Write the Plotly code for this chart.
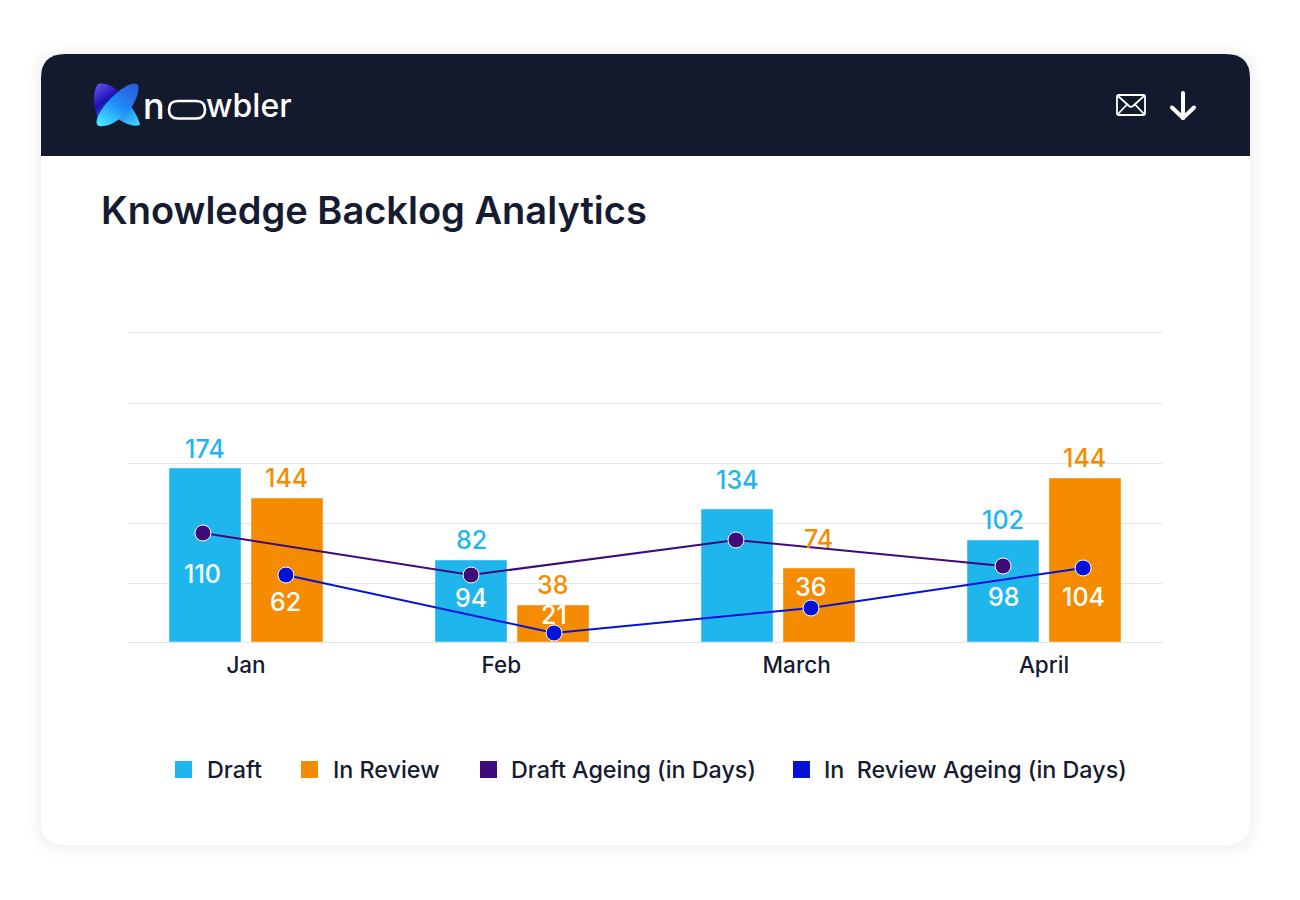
import base64

import plotly.graph_objects as go

W, H = 1300, 900
FONT = "Inter"
INK = "#151B30"
HEADER = "#141A2E"
GRID = "#E3E4E6"

months = ["Jan", "Feb", "March", "April"]
group_x = [0, 1, 2, 3]
month_tick_x = [0, 0.96, 2.07, 3]

# bar heights as drawn (the April review bar is taller than its 144 label)
draft_heights = [174, 82, 133, 102]
review_heights = [144, 37, 74, 164]
draft_labels = ["174", "82", "134", "102"]
review_labels = ["144", "38", "74", "144"]

draft_age_x = [-0.162, 0.846, 1.842, 2.846]
draft_age_y = [109, 67, 102, 76]
review_age_x = [0.150, 1.158, 2.124, 3.147]
review_age_y = [67, 9, 34, 74]
draft_age_labels = ["110", "94", "", "98"]
review_age_labels = ["62", "21", "36", "104"]

grid_vals = [0, 59, 119, 179, 239, 310]

# pixel nudges for the value labels
draft_label_shift = [19, 20, 29, 20]
review_label_shift = [20, 20, 29, 20]
draft_age_shift = [-41, -23, 0, -31]
review_age_shift = [-27, 18, 21, -29]

BLUE = "#1FB6EE"
ORANGE = "#F58B00"
PURPLE = "#3F0A7A"
ROYAL = "#0412D8"

legend_items = [
    ("Draft", BLUE, 175, 205),
    ("In Review", ORANGE, 301, 331),
    ("Draft Ageing (in Days)", PURPLE, 480, 509),
    ("In  Review Ageing (in Days)", ROYAL, 793, 822),
]

shadow_spreads = [14, 12, 10, 8, 7, 6, 5, 4, 3, 2, 1]


def px(x):
    return x / W


def py(y):
    return 1 - y / H


def rounded(x0, y0, x1, y1, r, bottom=True):
    """Rounded box path in paper coords; bottom=False keeps a square bottom edge."""
    pts = [f"M{px(x0 + r)},{py(y0)}", f"L{px(x1 - r)},{py(y0)}",
           f"Q{px(x1)},{py(y0)} {px(x1)},{py(y0 + r)}"]
    if bottom:
        pts += [f"L{px(x1)},{py(y1 - r)}", f"Q{px(x1)},{py(y1)} {px(x1 - r)},{py(y1)}",
                f"L{px(x0 + r)},{py(y1)}", f"Q{px(x0)},{py(y1)} {px(x0)},{py(y1 - r)}"]
    else:
        pts += [f"L{px(x1)},{py(y1)}", f"L{px(x0)},{py(y1)}"]
    pts += [f"L{px(x0)},{py(y0 + r)}", f"Q{px(x0)},{py(y0)} {px(x0 + r)},{py(y0)}", "Z"]
    return " ".join(pts)


def svg_uri(svg):
    return "data:image/svg+xml;base64," + base64.b64encode(svg.encode()).decode()


LOGO = """<svg xmlns="http://www.w3.org/2000/svg" viewBox="0 0 47 44" width="47" height="44">
<defs>
<linearGradient id="a" x1="0.1" y1="0" x2="0.9" y2="1">
<stop offset="0" stop-color="#6A4CF0"/><stop offset="0.32" stop-color="#1A12B4"/>
<stop offset="0.62" stop-color="#1E7CF0"/><stop offset="1" stop-color="#3CD4FF"/></linearGradient>
<linearGradient id="b" x1="0.9" y1="0" x2="0.15" y2="1">
<stop offset="0" stop-color="#2F57DC"/><stop offset="0.5" stop-color="#1E8CF8"/>
<stop offset="1" stop-color="#45E4FF"/></linearGradient>
</defs>
<path fill="url(#a)" d="M5 1 C12 -1 22 4 28 11 C36 19 46 34 47 42 C40 45 27 39 19 31 C14 34 9 38 7 38 C1 30 -2 10 5 1 Z"/>
<path fill="url(#b)" d="M44 1 C48 4 44 16 38 25 C30 35 16 45 6 43 C1 41 4 32 12 22 C20 12 36 -2 44 1 Z"/>
</svg>"""

MAIL = """<svg xmlns="http://www.w3.org/2000/svg" viewBox="0 0 30 22" width="30" height="22">
<g fill="none" stroke="#fff" stroke-width="1.8" stroke-linejoin="round" stroke-linecap="round">
<rect x="1" y="1" width="28" height="20" rx="1.5"/>
<path d="M2 2 L13 12 Q15 13.6 17 12 L28 2"/><path d="M2 20 L11 10.5"/><path d="M28 20 L19 10.5"/>
</g></svg>"""

ARROW = """<svg xmlns="http://www.w3.org/2000/svg" viewBox="0 0 28 30" width="28" height="30">
<g fill="none" stroke="#fff" stroke-width="4" stroke-linejoin="round" stroke-linecap="round">
<path d="M14 2 V27"/><path d="M3 16.5 L14 27 L25 16.5"/></g></svg>"""


def image(svg, x, y, w, h):
    return dict(source=svg_uri(svg), xref="paper", yref="paper", x=px(x), y=py(y),
                sizex=w / W, sizey=h / H, xanchor="left", yanchor="top",
                sizing="stretch", layer="above")


fig = go.Figure()

fig.add_trace(go.Bar(x=group_x, y=draft_heights, name="Draft", marker_color=BLUE, hoverinfo="skip"))
fig.add_trace(go.Bar(x=group_x, y=review_heights, name="In Review", marker_color=ORANGE, hoverinfo="skip"))
fig.add_trace(go.Scatter(
    x=draft_age_x, y=draft_age_y, name="Draft Ageing (in Days)", mode="lines+markers",
    line=dict(color=PURPLE, width=2),
    marker=dict(color=PURPLE, size=16, line=dict(color="white", width=1)),
))
fig.add_trace(go.Scatter(
    x=review_age_x, y=review_age_y, name="In  Review Ageing (in Days)", mode="lines+markers",
    line=dict(color=ROYAL, width=2),
    marker=dict(color=ROYAL, size=16, line=dict(color="white", width=1)),
))

shapes = []
# soft card shadow
for spread in shadow_spreads:
    shapes.append(dict(type="path", xref="paper", yref="paper", layer="below",
                       path=rounded(41 - spread, 54 - spread + 1, 1250 + spread, 845 + spread + 1, 22 + spread),
                       fillcolor="rgba(50,50,50,0.005)", line_width=0))
shapes.append(dict(type="path", xref="paper", yref="paper", layer="below",
                   path=rounded(41, 54, 1250, 845, 24), fillcolor="white", line_width=0))
shapes.append(dict(type="path", xref="paper", yref="paper", layer="below",
                   path=rounded(41, 54, 1250, 156, 24, bottom=False), fillcolor=HEADER, line_width=0))
# the stretched "o" of the wordmark
shapes.append(dict(type="path", xref="paper", yref="paper", layer="above",
                   path=rounded(169, 101, 205, 118.5, 8.7), fillcolor="rgba(0,0,0,0)",
                   line=dict(color="white", width=2.6)))

annotations = []


def label(text, x, y, color, size=25, shift=0, weight=500):
    annotations.append(dict(text=text, x=x, y=y, xref="x", yref="y", yshift=shift, showarrow=False,
                            xanchor="center", yanchor="middle",
                            font=dict(family=FONT, size=size, color=color, weight=weight)))


for i, gx in enumerate(group_x):
    label(draft_labels[i], gx - 0.154, draft_heights[i], BLUE, shift=draft_label_shift[i])
    label(review_labels[i], gx + 0.154, review_heights[i], ORANGE, shift=review_label_shift[i])
    if draft_age_labels[i]:
        label(draft_age_labels[i], draft_age_x[i], draft_age_y[i], "white", shift=draft_age_shift[i])
    label(review_age_labels[i], review_age_x[i], review_age_y[i], "white", shift=review_age_shift[i])

for text, color, swatch_x, text_x in legend_items:
    shapes.append(dict(type="rect", xref="paper", yref="paper", layer="below",
                       x0=px(swatch_x), x1=px(swatch_x + 17), y0=py(778), y1=py(761),
                       fillcolor=color, line_width=0))
    annotations.append(dict(text=text, xref="paper", yref="paper", x=px(text_x), y=py(769), showarrow=False,
                            xanchor="left", yanchor="middle",
                            font=dict(family=FONT, size=23.3, color=INK, weight=500)))

# wordmark, either side of the drawn "o"
annotations.append(dict(text="n", xref="paper", yref="paper", x=px(141), y=py(106), showarrow=False,
                        xanchor="left", yanchor="middle", font=dict(family=FONT, size=36, color="white", weight=500)))
annotations.append(dict(text="wbler", xref="paper", yref="paper", x=px(204), y=py(106), showarrow=False,
                        xanchor="left", yanchor="middle", font=dict(family=FONT, size=32, color="white", weight=500)))

fig.update_layout(
    width=W,
    height=H,
    margin=dict(l=0, r=0, t=0, b=0),
    paper_bgcolor="white",
    plot_bgcolor="rgba(0,0,0,0)",
    showlegend=False,
    barmode="group",
    bargap=0.3835,
    bargroupgap=0.122,
    title=dict(text="Knowledge Backlog Analytics", x=px(101), xref="paper", xanchor="left",
               y=py(211), yref="paper", yanchor="middle",
               font=dict(family=FONT, size=38, color=INK, weight=600)),
    xaxis=dict(domain=[px(128), px(1162)], range=[-0.4436, 3.4436],
               tickmode="array", tickvals=month_tick_x, ticktext=months,
               ticks="outside", ticklen=0, tickcolor="rgba(0,0,0,0)",
               tickfont=dict(family=FONT, size=22.5, color=INK, weight=500),
               showgrid=False, zeroline=False, showline=False),
    yaxis=dict(domain=[py(645), py(329)], range=[-3, 313],
               tickmode="array", tickvals=grid_vals, showticklabels=False,
               showgrid=True, gridcolor=GRID, gridwidth=1, zeroline=False, showline=False),
    shapes=shapes,
    annotations=annotations,
    images=[image(LOGO, 93, 83, 47, 44), image(MAIL, 1116, 94, 30, 22), image(ARROW, 1169, 91, 28, 30)],
)

fig.write_html("out.html", config={"displayModeBar": False},
               post_script="document.body.style.margin='0';document.body.style.overflow='hidden';")
